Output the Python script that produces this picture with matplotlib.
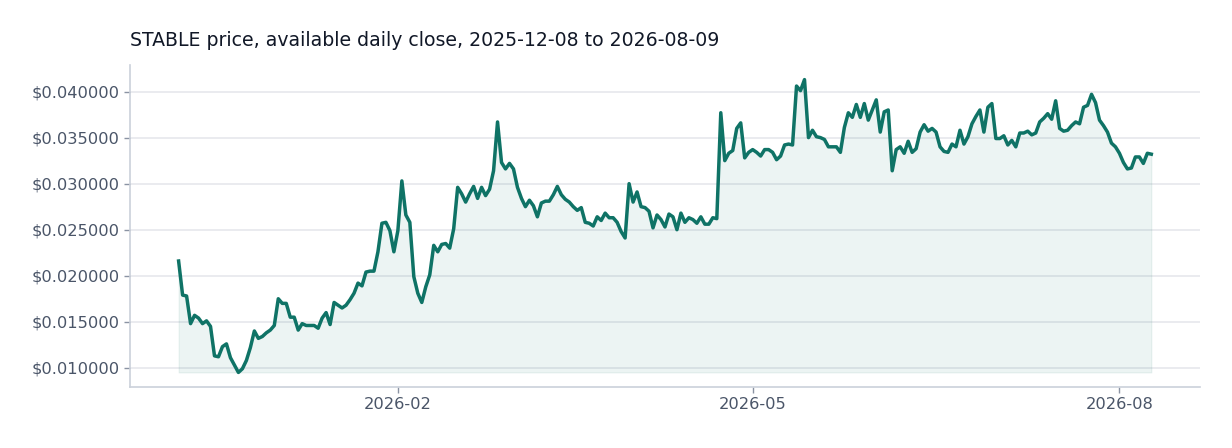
import pandas as pd
import numpy as np
import matplotlib
matplotlib.use("Agg")
import matplotlib.pyplot as plt
import matplotlib.dates as mdates
from matplotlib.ticker import FuncFormatter

start_date = "2025-12-08"
end_date = "2026-08-09"

# daily close
prices_dec_jan = [
    0.0216, 0.0179, 0.0178, 0.0148, 0.0157, 0.0154, 0.0148, 0.0151, 0.0145, 0.0113,
    0.0112, 0.0123, 0.0126, 0.0111, 0.0103, 0.0095, 0.0099, 0.0108, 0.0122, 0.0140,
    0.0132, 0.0134, 0.0138, 0.0141, 0.0146, 0.0175, 0.0170, 0.0170, 0.0155, 0.0155,
    0.0141, 0.0148, 0.0146, 0.0146, 0.0146, 0.0143, 0.0154, 0.0160, 0.0147, 0.0171,
    0.0168, 0.0165, 0.0168, 0.0174, 0.0181, 0.0192, 0.0189, 0.0204, 0.0205, 0.0205,
    0.0226, 0.0257, 0.0258, 0.0249, 0.0226,
]
prices_feb_mar = [
    0.0249, 0.0303, 0.0266, 0.0258, 0.0199, 0.0181, 0.0171, 0.0188, 0.0201, 0.0233,
    0.0226, 0.0234, 0.0235, 0.0230, 0.0251, 0.0296, 0.0289, 0.0280, 0.0289, 0.0297,
    0.0284, 0.0296, 0.0287, 0.0294, 0.0314, 0.0367, 0.0323, 0.0316, 0.0322, 0.0316,
    0.0296, 0.0284, 0.0275, 0.0282, 0.0276, 0.0264, 0.0279, 0.0281, 0.0281, 0.0288,
    0.0297, 0.0288, 0.0283, 0.0280, 0.0275, 0.0271, 0.0274, 0.0258, 0.0257, 0.0254,
    0.0264, 0.0260, 0.0268, 0.0263, 0.0263, 0.0258, 0.0248, 0.0241, 0.0300,
]
prices_apr_may = [
    0.0280, 0.0291, 0.0275, 0.0274, 0.0270, 0.0252, 0.0266, 0.0261, 0.0253, 0.0267,
    0.0264, 0.0250, 0.0268, 0.0258, 0.0263, 0.0261, 0.0257, 0.0264, 0.0256, 0.0256,
    0.0263, 0.0262, 0.0377, 0.0325, 0.0333, 0.0336, 0.0360, 0.0366, 0.0328, 0.0334,
    0.0337, 0.0334, 0.0330, 0.0337, 0.0337, 0.0334, 0.0326, 0.0330, 0.0342, 0.0343,
    0.0342, 0.0406, 0.0401, 0.0413, 0.0350, 0.0358, 0.0351, 0.0350, 0.0348, 0.0340,
    0.0340, 0.0340, 0.0334, 0.0361, 0.0377, 0.0372, 0.0386,
]
prices_jun_aug = [
    0.0372, 0.0387, 0.0369, 0.0380, 0.0391, 0.0356, 0.0378, 0.0380, 0.0314, 0.0337,
    0.0340, 0.0333, 0.0346, 0.0334, 0.0338, 0.0356, 0.0364, 0.0357, 0.0360, 0.0356,
    0.0340, 0.0335, 0.0334, 0.0343, 0.0340, 0.0358, 0.0343, 0.0351, 0.0365, 0.0373,
    0.0380, 0.0356, 0.0383, 0.0387, 0.0349, 0.0349, 0.0352, 0.0342, 0.0347, 0.0340,
    0.0355, 0.0355, 0.0357, 0.0353, 0.0355, 0.0367, 0.0371, 0.0376, 0.0370, 0.0390,
    0.0360, 0.0357, 0.0358, 0.0363, 0.0367, 0.0365, 0.0383, 0.0385, 0.0397, 0.0388,
    0.0369, 0.0363, 0.0356, 0.0344, 0.0340, 0.0333, 0.0323, 0.0316, 0.0317, 0.0329,
    0.0329, 0.0322, 0.0333, 0.0332,
]

prices = prices_dec_jan + prices_feb_mar + prices_apr_may + prices_jun_aug
dates = pd.date_range(start_date, periods=len(prices), freq="D")
df = pd.DataFrame({"date": dates, "close": prices})

line_color = "#0f7366"
text_color = "#4a5568"
spine_color = "#cbd1da"

fig = plt.figure(figsize=(12.32, 4.48), dpi=100)
ax = fig.add_axes([0.1055, 0.136, 0.8685, 0.719])

ax.fill_between(df["date"], df["close"], df["close"].min(),
                color=line_color, alpha=0.08, linewidth=0.8)
ax.plot(df["date"], df["close"], color=line_color, linewidth=2.5)

ax.margins(x=0.05, y=0.05)
ax.yaxis.set_major_formatter(FuncFormatter(lambda v, p: f"${v:.6f}"))
ax.xaxis.set_major_locator(mdates.MonthLocator(bymonth=[2, 5, 8]))
ax.xaxis.set_major_formatter(mdates.DateFormatter("%Y-%m"))

ax.grid(axis="y", color="#e4e6eb", linewidth=1.1)
ax.set_axisbelow(True)
for s in ["top", "right"]:
    ax.spines[s].set_visible(False)
for s in ["left", "bottom"]:
    ax.spines[s].set_color(spine_color)
    ax.spines[s].set_linewidth(1.2)
ax.tick_params(colors=text_color, labelsize=11.7, length=4, width=1, color="#8a93a3")

ax.set_title(f"STABLE price, available daily close, {start_date} to {end_date}",
             loc="left", fontsize=13.6, color="#111827", pad=14)

fig.savefig("out.png", dpi=100)
